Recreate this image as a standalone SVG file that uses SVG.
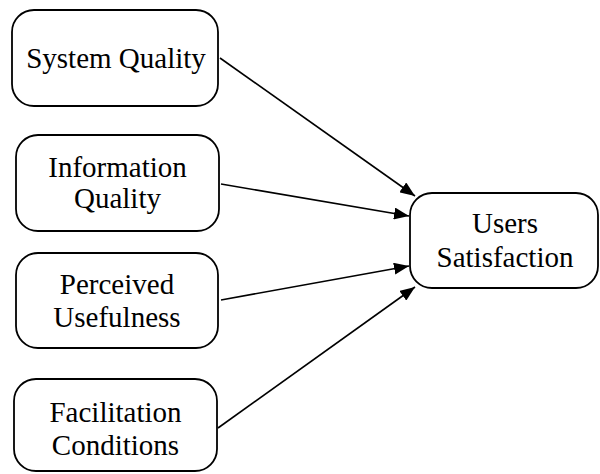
<svg xmlns="http://www.w3.org/2000/svg" width="600" height="474" viewBox="0 0 600 474">
  <style>
    .box { fill: #ffffff; stroke: #000000; stroke-width: 1.8; }
    .lbl { font-family: "Liberation Serif", "Times New Roman", serif; font-size: 29px; fill: #000000; text-anchor: middle; }
    .edge { stroke: #000000; stroke-width: 1.6; fill: none; marker-end: url(#arrow); }
  </style>
  <defs>
    <marker id="arrow" markerUnits="userSpaceOnUse" markerWidth="16" markerHeight="12" refX="15" refY="6" orient="auto">
      <path d="M0,0 L15,6 L0,12 Z" fill="#000000"/>
    </marker>
  </defs>
  <rect width="600" height="474" fill="#ffffff"/>

  <g id="connectors">
    <line class="edge" x1="220" y1="58" x2="415" y2="196"/>
    <line class="edge" x1="221" y1="184" x2="409" y2="216"/>
    <line class="edge" x1="221" y1="300" x2="409" y2="266"/>
    <line class="edge" x1="218" y1="428" x2="415" y2="287"/>
  </g>

  <g id="system-quality">
    <rect class="box" x="12" y="10" width="206" height="96" rx="22"/>
    <text class="lbl" x="116" y="68">System Quality</text>
  </g>

  <g id="information-quality">
    <rect class="box" x="16" y="135" width="203" height="96" rx="22"/>
    <text class="lbl" x="117.5" y="177">Information</text>
    <text class="lbl" x="117.5" y="208">Quality</text>
  </g>

  <g id="perceived-usefulness">
    <rect class="box" x="16" y="253" width="202" height="95" rx="22"/>
    <text class="lbl" x="117" y="294">Perceived</text>
    <text class="lbl" x="117" y="327">Usefulness</text>
  </g>

  <g id="facilitation-conditions">
    <rect class="box" x="14" y="379" width="203" height="92" rx="22"/>
    <text class="lbl" x="115.5" y="422">Facilitation</text>
    <text class="lbl" x="115.5" y="455">Conditions</text>
  </g>

  <g id="users-satisfaction">
    <rect class="box" x="410" y="193" width="188" height="95" rx="22"/>
    <text class="lbl" x="505" y="233">Users</text>
    <text class="lbl" x="505" y="267">Satisfaction</text>
  </g>
</svg>
